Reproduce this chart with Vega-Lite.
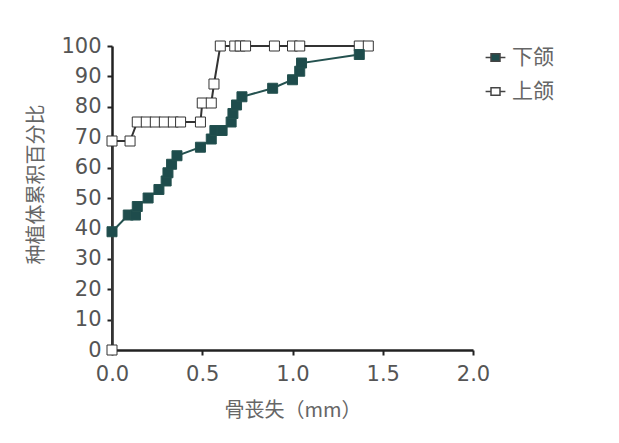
{
  "$schema": "https://vega.github.io/schema/vega-lite/v6.json",
  "width": 361,
  "height": 304,
  "autosize": {"type": "none"},
  "padding": {"left": 112, "top": 46, "right": 146, "bottom": 93},
  "background": "white",
  "config": {
    "view": {"stroke": null},
    "font": "DejaVu Sans",
    "axis": {
      "domainColor": "#222",
      "domainWidth": 2.5,
      "tickColor": "#222",
      "tickWidth": 2,
      "tickSize": 5,
      "grid": false,
      "labelColor": "#555",
      "labelFontSize": 21,
      "labelFont": "DejaVu Sans",
      "labelFlush": false,
      "titleColor": "#666",
      "titleFontSize": 20,
      "titleFontWeight": "normal",
      "titleFont": "Noto Sans CJK SC"
    },
    "legend": {
      "labelFont": "Noto Sans CJK SC",
      "labelFontSize": 21,
      "labelColor": "#666"
    }
  },
  "data": {
    "values": [
      {"series": "上颌", "k": 0, "x": 0, "y": 0},
      {"series": "上颌", "k": 1, "x": 0, "y": 68.75},
      {"series": "上颌", "k": 2, "x": 0.1, "y": 68.75},
      {"series": "上颌", "k": 3, "x": 0.14, "y": 75},
      {"series": "上颌", "k": 4, "x": 0.19, "y": 75},
      {"series": "上颌", "k": 5, "x": 0.24, "y": 75},
      {"series": "上颌", "k": 6, "x": 0.29, "y": 75},
      {"series": "上颌", "k": 7, "x": 0.34, "y": 75},
      {"series": "上颌", "k": 8, "x": 0.38, "y": 75},
      {"series": "上颌", "k": 9, "x": 0.49, "y": 75},
      {"series": "上颌", "k": 10, "x": 0.5, "y": 81.25},
      {"series": "上颌", "k": 11, "x": 0.55, "y": 81.25},
      {"series": "上颌", "k": 12, "x": 0.565, "y": 87.5},
      {"series": "上颌", "k": 13, "x": 0.6, "y": 100},
      {"series": "上颌", "k": 14, "x": 0.68, "y": 100},
      {"series": "上颌", "k": 15, "x": 0.71, "y": 100},
      {"series": "上颌", "k": 16, "x": 0.74, "y": 100},
      {"series": "上颌", "k": 17, "x": 0.9, "y": 100},
      {"series": "上颌", "k": 18, "x": 1.0, "y": 100},
      {"series": "上颌", "k": 19, "x": 1.04, "y": 100},
      {"series": "上颌", "k": 20, "x": 1.37, "y": 100},
      {"series": "上颌", "k": 21, "x": 1.42, "y": 100},
      {"series": "下颌", "k": 0, "x": 0, "y": 38.9},
      {"series": "下颌", "k": 1, "x": 0.09, "y": 44.4},
      {"series": "下颌", "k": 2, "x": 0.13, "y": 44.4},
      {"series": "下颌", "k": 3, "x": 0.14, "y": 47.2},
      {"series": "下颌", "k": 4, "x": 0.2, "y": 50},
      {"series": "下颌", "k": 5, "x": 0.26, "y": 52.8},
      {"series": "下颌", "k": 6, "x": 0.3, "y": 55.6},
      {"series": "下颌", "k": 7, "x": 0.31, "y": 58.3},
      {"series": "下颌", "k": 8, "x": 0.33, "y": 61.1},
      {"series": "下颌", "k": 9, "x": 0.36, "y": 63.9},
      {"series": "下颌", "k": 10, "x": 0.49, "y": 66.7},
      {"series": "下颌", "k": 11, "x": 0.55, "y": 69.4},
      {"series": "下颌", "k": 12, "x": 0.57, "y": 72.2},
      {"series": "下颌", "k": 13, "x": 0.61, "y": 72.2},
      {"series": "下颌", "k": 14, "x": 0.66, "y": 75},
      {"series": "下颌", "k": 15, "x": 0.67, "y": 77.8},
      {"series": "下颌", "k": 16, "x": 0.69, "y": 80.6},
      {"series": "下颌", "k": 17, "x": 0.72, "y": 83.3},
      {"series": "下颌", "k": 18, "x": 0.89, "y": 86.1},
      {"series": "下颌", "k": 19, "x": 1.0, "y": 88.9},
      {"series": "下颌", "k": 20, "x": 1.04, "y": 91.7},
      {"series": "下颌", "k": 21, "x": 1.05, "y": 94.4},
      {"series": "下颌", "k": 22, "x": 1.37, "y": 97.2}
    ]
  },
  "encoding": {
    "x": {
      "field": "x", "type": "quantitative",
      "scale": {"domain": [0, 2], "nice": false},
      "axis": {"values": [0, 0.5, 1, 1.5, 2], "format": ".1f", "title": "骨丧失（mm）", "titlePadding": 16, "labelPadding": 8}
    },
    "y": {
      "field": "y", "type": "quantitative",
      "scale": {"domain": [0, 100], "nice": false},
      "axis": {"values": [0,10,20,30,40,50,60,70,80,90,100], "title": "种植体累积百分比", "titlePadding": 14, "labelPadding": 6, "titleY": 138}
    }
  },
  "layer": [
    {
      "mark": {"type": "line", "strokeWidth": 2},
      "encoding": {
        "detail": {"field": "series"},
        "order": {"field": "k"},
        "stroke": {
          "field": "series", "type": "nominal",
          "scale": {"domain": ["上颌", "下颌"], "range": ["#333333", "#24514f"]},
          "legend": null
        }
      }
    },
    {
      "mark": {"type": "point", "shape": "square", "size": 100, "filled": true, "strokeWidth": 1, "opacity": 1},
      "encoding": {
        "fill": {
          "field": "series", "type": "nominal",
          "scale": {"domain": ["下颌", "上颌"], "range": ["#1e4c4c", "#ffffff"]},
          "legend": {
            "title": null, "orient": "none", "legendX": 373, "legendY": 1,
            "symbolType": "M-2.2,0H-1M1,0H2.2M-1,-0.85H1V0.85H-1Z",
            "symbolSize": 81, "symbolStrokeWidth": 1.5, "symbolStrokeColor": "#444",
            "rowPadding": 12, "labelOffset": 6
          }
        },
        "stroke": {
          "field": "series", "type": "nominal",
          "legend": null
        }
      }
    }
  ]
}
